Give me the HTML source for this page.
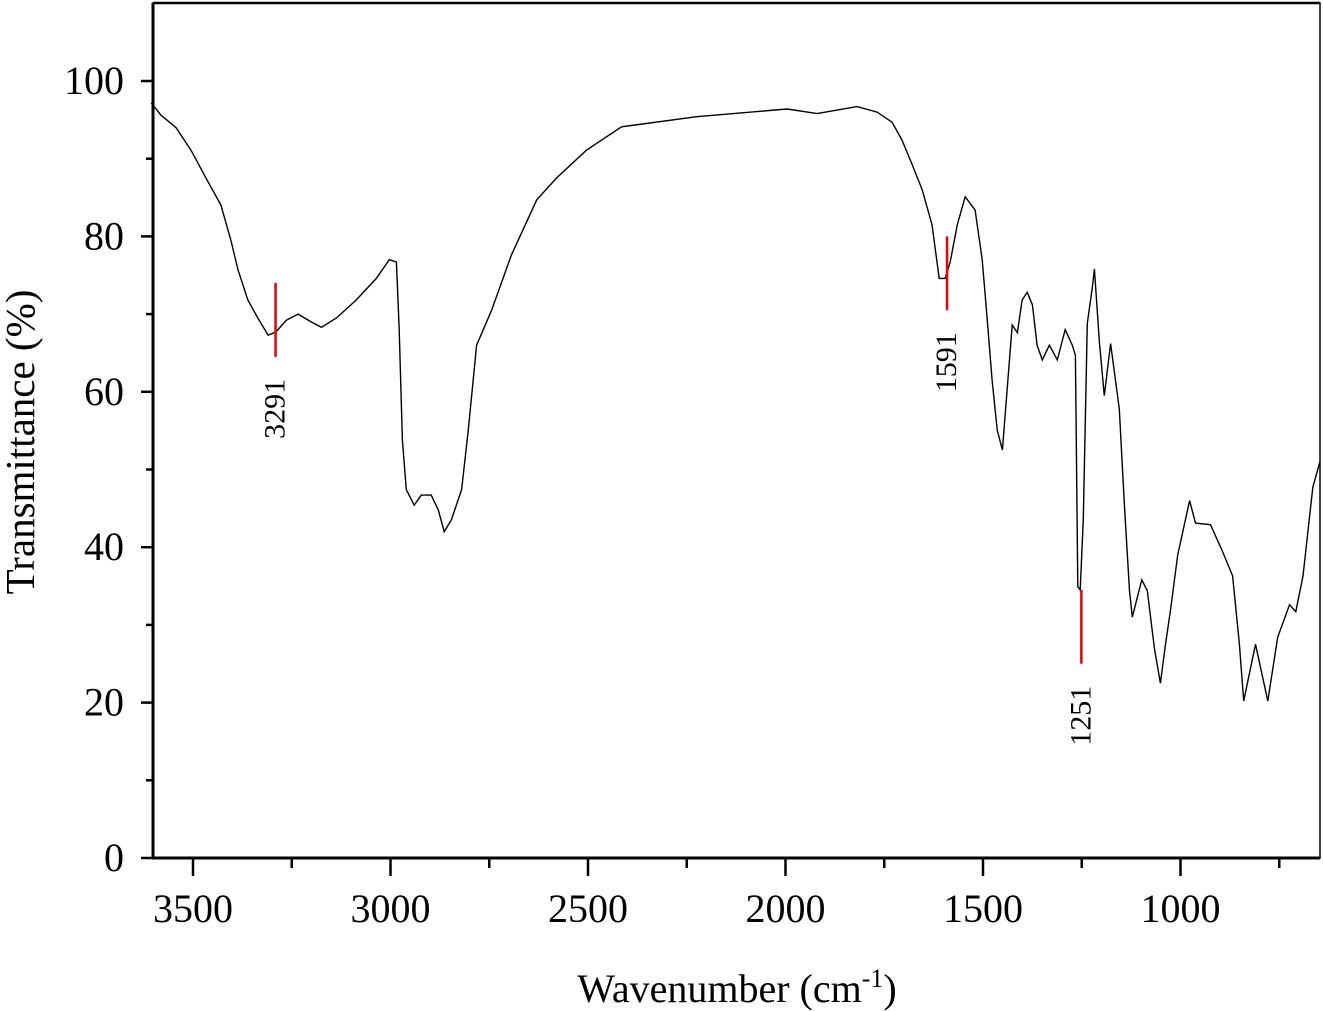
<!DOCTYPE html>
<html><head><meta charset="utf-8"><style>
html,body{margin:0;padding:0;background:#fff;}
svg{display:block;}
text{font-family:"Liberation Serif",serif;fill:#000;}
</style></head><body>
<svg id="chart" width="1323" height="1011" xmlns="http://www.w3.org/2000/svg">
<g id="axes"></g>
<path id="spectrum" fill="none" stroke="#000" stroke-width="1.4"/>
<g id="marks"></g>
<text x="737" y="1002" font-size="40" text-anchor="middle">Wavenumber (cm<tspan dy="-15" font-size="26">-1</tspan><tspan dy="15">)</tspan></text>
<text transform="translate(34,442) rotate(-90)" font-size="41" text-anchor="middle">Transmittance (%)</text>
</svg>
<script>
const wavenumbers=[3606,3581,3543,3505,3467,3429,3404,3386,3361,3336,3310,3290,3264,3234,3201,3175,3137,3087,3036,3003,2985,2978,2970,2960,2940,2922,2897,2879,2864,2846,2820,2803,2782,2744,2694,2630,2580,2504,2415,2225,1996,1920,1819,1768,1730,1705,1679,1654,1629,1611,1596,1583,1565,1545,1520,1502,1489,1477,1464,1451,1439,1426,1413,1401,1388,1375,1363,1350,1332,1312,1292,1274,1266,1260,1254,1246,1236,1223,1218,1205,1193,1177,1155,1142,1129,1122,1098,1084,1066,1051,1038,1025,1007,977,962,924,894,868,851,840,810,779,754,724,708,690,665,647];
const transmittance=[97.2,95.6,94,91.1,87.5,84,79.5,75.7,71.8,69.5,67.3,67.7,69.2,70,69,68.3,69.5,71.8,74.6,77,76.7,68,53.8,47.4,45.4,46.7,46.7,44.8,42,43.5,47.4,55.1,66,70.5,77.6,84.7,87.5,91.1,94.1,95.4,96.4,95.8,96.7,96,94.7,92.4,89.2,86,81.5,74.6,74.6,76.7,81.5,85.1,83.4,77,69.2,61.5,55.1,52.5,60.2,68.6,67.6,71.8,72.8,71.2,66,64.1,66,64.1,68,66,64.7,34.9,34.5,43.6,68.8,73.5,75.8,66.2,59.5,66.2,57.8,45.4,34.4,31,35.8,34.4,27,22.5,27.5,32,39,46,43.1,42.9,39.5,36.3,27.5,20.2,27.5,20.2,28.4,32.6,31.7,36.3,47.7,51];
const xTicks=[3500,3000,2500,2000,1500,1000];
const yTicks=[0,20,40,60,80,100];
const peakLabels=["3291","1591","1251"];
const peakWn=[3291,1591,1251];
const peakTop=[74,80,34.5];
const peakBottom=[64.5,70.5,25];

const L=153,R=1320,T=3,B=858;
const xs=w=>193+(3500-w)*0.395;
const ys=v=>B-v*7.77;
const NS="http://www.w3.org/2000/svg";
const ax=document.getElementById('axes');
function mk(tag,attrs,parent){const e=document.createElementNS(NS,tag);for(const k in attrs)e.setAttribute(k,attrs[k]);(parent||ax).appendChild(e);return e;}

const frame=mk('rect',{x:L,y:T,width:R-L,height:B-T,fill:'none',stroke:'#000','stroke-width':1.5});


const lax=mk('line',{x1:L,y1:T,x2:L,y2:B+1,stroke:'#000','stroke-width':3});


const bax=mk('line',{x1:L-1,y1:B,x2:R,y2:B,stroke:'#000','stroke-width':3});


const tax=mk('line',{x1:L,y1:T,x2:R,y2:T,stroke:'#000','stroke-width':2.5});



xTicks.forEach(v=>{
  const x=xs(v);
  const t=mk('line',{x1:x,y1:B,x2:x,y2:B+18,stroke:'#000','stroke-width':2.5});
  
  
  const m=xs(v-250);
  if(m<R){const t2=mk('line',{x1:m,y1:B,x2:m,y2:B+10,stroke:'#000','stroke-width':2.5});
  
  }
  const lb=mk('text',{x:x,y:922,'font-size':40,'text-anchor':'middle'});
  lb.textContent=v;
  
  
});
yTicks.forEach(v=>{
  const y=ys(v);
  const t=mk('line',{x1:L-12,y1:y,x2:L,y2:y,stroke:'#000','stroke-width':2.5});
  
  
  if(v<100){const t2=mk('line',{x1:L-7,y1:ys(v+10),x2:L,y2:ys(v+10),stroke:'#000','stroke-width':2.5});
  
  }
  const lb=mk('text',{x:124,y:y+13,'font-size':40,'text-anchor':'end'});
  lb.textContent=v;
  
  
});

let d='';
wavenumbers.forEach((w,i)=>{d+=(i?'L':'M')+xs(w).toFixed(1)+' '+ys(transmittance[i]).toFixed(1);});
document.getElementById('spectrum').setAttribute('d',d);

const mg=document.getElementById('marks');
peakLabels.forEach((lab,i)=>{
  const x=xs(peakWn[i]);
  const ln=mk('line',{x1:x,y1:ys(peakTop[i]),x2:x,y2:ys(peakBottom[i]),stroke:'#e00','stroke-width':2.5},mg);
  
  
  const ty=ys(peakBottom[i])+22;
  const tx=mk('text',{transform:`translate(${x+9},${ty}) rotate(-90)`,'font-size':30,'text-anchor':'end'},mg);
  tx.textContent=lab;
  
  
});
</script>
</body></html>
